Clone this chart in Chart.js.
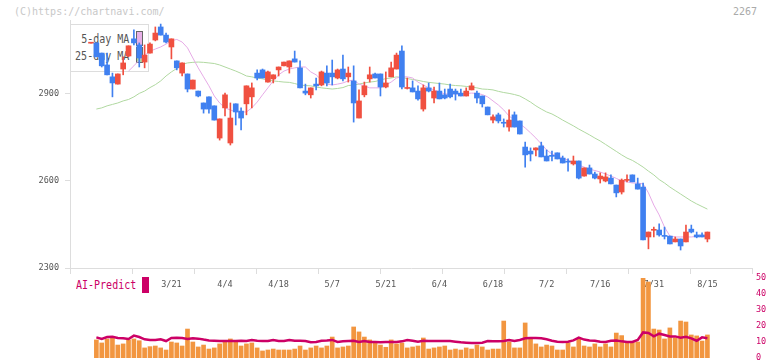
<!DOCTYPE html>
<html><head><meta charset="utf-8">
<script src="https://cdn.jsdelivr.net/npm/chart.js@4.4.1/dist/chart.umd.min.js"></script>
<style>
html,body{margin:0;padding:0;background:#fff;}
#wrap{position:relative;width:772px;height:361px;overflow:hidden;font-family:'DejaVu Sans Mono',monospace;}
canvas{position:absolute;left:0;top:0;}
.t{position:absolute;white-space:nowrap;line-height:12px;}
.sq{position:absolute;box-sizing:border-box;}
</style></head><body>
<div id="wrap">
  <div class="t" style="left:14px;top:6px;font-size:10px;color:#c8c8c8;">(C)https://chartnavi.com/</div>
  <div class="t" style="right:15px;top:6px;font-size:10px;color:#aaa;">2267</div>
  <div class="sq" style="left:70px;top:24px;width:79px;height:48px;border:1px solid #ddd;background:#fff;"></div>
  <div class="t" style="right:643px;top:33px;font-size:11.5px;color:#555;transform:scaleX(0.87);transform-origin:right;">5-day MA</div>
  <div class="t" style="right:643px;top:50px;font-size:11.5px;color:#555;transform:scaleX(0.87);transform-origin:right;">25-day MA</div>
  <div class="sq" style="left:136px;top:31px;width:7px;height:15px;border:1px solid #666;background:#e8b0e8;"></div>
  <div class="sq" style="left:136px;top:47px;width:7px;height:16px;border:1px solid #666;background:#b0d8a0;"></div>
  <div class="t" style="left:76px;top:279px;font-size:11.5px;color:#cc0066;transform:scaleX(0.87);transform-origin:left;">AI-Predict</div>
  <div class="sq" style="left:142px;top:277px;width:7px;height:16px;background:#cc0066;"></div>
  <canvas id="main" width="772" height="361"></canvas>
  <canvas id="sub" width="772" height="361"></canvas>
</div>
<script>
// ---- data ----
const open = [3075,3076,3041,3000,2959,2934,2986,3031,3090,3069,3010,3041,3086,3131,3103,3062,3014,2972,2969,2917,
  2910,2869,2890,2859,2748,2852,2731,2866,2841,2866,2890,2972,2983,2941,2952,2983,2997,2993,3021,2990,
  2910,2897,2934,2931,2972,2972,2955,2986,2959,2945,2817,2897,2952,2969,2969,2924,2959,2986,3048,2919,
  2921,2910,2848,2921,2886,2910,2897,2917,2910,2903,2893,2914,2903,2893,2855,2810,2828,2801,2786,2828,
  2807,2717,2703,2707,2721,2686,2687,2697,2679,2667,2659,2669,2617,2645,2624,2607,2600,2610,2586,2562,
  2602,2621,2590,2579,2407,2430,2431,2411,2410,2390,2400,2390,2434,2414,2414,2400];
const close = [3077,3028,2997,2966,2938,2969,3007,3066,3076,3024,3034,3072,3110,3103,3079,3090,2990,3007,2917,2948,
  2893,2848,2848,2810,2814,2897,2817,2838,2817,2928,2921,2955,2955,2976,2966,2993,3010,3014,3010,2921,
  2903,2921,2928,2976,2938,2959,2983,2952,2972,2869,2876,2928,2966,2955,2924,2938,2990,3034,2924,2921,
  2907,2883,2921,2910,2910,2883,2886,2890,2900,2893,2910,2928,2886,2866,2828,2821,2807,2799,2810,2786,
  2762,2690,2693,2714,2683,2669,2685,2676,2662,2665,2669,2610,2645,2624,2610,2617,2614,2590,2559,2603,
  2604,2597,2572,2397,2424,2432,2414,2409,2383,2400,2376,2424,2424,2407,2407,2424];
const high = [3077,3076,3041,3041,2972,2969,3028,3066,3121,3076,3069,3076,3131,3141,3110,3090,3014,3007,2969,2948,
  2910,2869,2890,2859,2814,2903,2869,2866,2852,2928,2938,2983,2986,2979,2966,2993,3010,3014,3048,3014,
  2934,2921,2955,2979,2997,3017,2986,3034,2993,2997,2914,2941,2993,2972,2969,2976,3010,3041,3066,2955,
  2945,2928,2931,2938,2924,2938,2917,2934,2917,2917,2921,2938,2910,2893,2855,2828,2834,2814,2845,2838,
  2807,2734,2714,2714,2734,2707,2703,2697,2686,2676,2686,2669,2645,2655,2631,2628,2628,2621,2586,2607,
  2621,2621,2610,2593,2424,2441,2452,2441,2410,2407,2400,2448,2448,2424,2421,2424];
const low = [3075,3028,2993,2966,2890,2934,2966,3028,3069,2993,2990,3041,3083,3103,3076,3021,2983,2962,2907,2917,
  2890,2834,2834,2810,2741,2824,2724,2793,2776,2828,2852,2948,2955,2941,2938,2962,2997,2972,3010,2921,
  2897,2886,2914,2928,2928,2931,2952,2945,2941,2803,2817,2890,2941,2955,2893,2921,2959,2986,2917,2917,
  2907,2879,2841,2907,2869,2883,2883,2886,2879,2893,2893,2914,2869,2855,2828,2800,2800,2786,2772,2786,
  2762,2648,2669,2686,2683,2669,2669,2676,2662,2634,2655,2607,2617,2624,2607,2593,2597,2590,2545,2555,
  2597,2597,2572,2397,2366,2407,2410,2400,2383,2390,2362,2390,2421,2404,2407,2390];
const ma5 = [null,null,null,null,null,null,null,2979,2997,3017,3033,3047,3055,3062,3072,3083,3088,3079,3059,3024,
  2990,2959,2928,2893,2869,2852,2845,2838,2838,2838,2852,2872,2897,2921,2945,2966,2979,2986,2990,2993,
  2993,2976,2966,2948,2934,2931,2934,2938,2945,2948,2934,2928,2921,2921,2921,2931,2941,2955,2959,2959,
  2955,2941,2931,2921,2914,2907,2900,2900,2900,2900,2902,2903,2902,2898,2890,2876,2862,2845,2824,2810,
  2797,2783,2766,2748,2728,2707,2693,2686,2679,2672,2662,2655,2648,2641,2636,2631,2624,2617,2609,2600,
  2597,2593,2593,2590,2559,2517,2483,2441,2410,2407,2407,2407,2407,2409,2410,2410];
const ma25 = [null,2848,2852,2859,2864,2869,2876,2881,2890,2902,2910,2922,2932,2945,2962,2976,2988,3002,3007,3009,
  3010,3009,3007,3005,3000,2993,2986,2979,2971,2962,2959,2955,2952,2948,2945,2943,2941,2940,2936,2931,
  2929,2928,2924,2921,2919,2917,2919,2922,2929,2931,2934,2938,2941,2943,2948,2953,2955,2959,2957,2953,
  2950,2947,2943,2940,2938,2936,2934,2931,2929,2928,2926,2924,2921,2917,2916,2914,2909,2905,2902,2898,
  2893,2883,2872,2859,2848,2838,2831,2821,2810,2800,2790,2779,2769,2759,2748,2738,2726,2714,2702,2690,
  2679,2671,2660,2648,2634,2621,2605,2593,2579,2567,2555,2543,2531,2521,2512,2503];
const volume = [null,11.3,9.4,11.9,13.5,8.1,8.8,11.3,11.9,10.8,6.3,7.1,7.5,6.3,5,10,9.4,7.5,18.1,10,
  6.9,8.1,5.6,6.3,8.8,10,11.9,10,7.5,8.8,9.4,6.3,4.4,5,5.6,5,5,5,5.6,7.5,
  5,6.3,7.5,6.3,7.5,13.1,6.3,6.9,7.5,19.4,16.3,13.1,11.3,9.4,8.1,6.7,11.3,8.8,9.4,6.3,
  6.9,7.5,12.5,5.6,6.3,6.9,7.5,5,5.6,5,6.3,5.6,8.1,6.9,5,5.6,5.6,23.1,10,6.3,
  6.3,21.9,12.5,8.8,6.9,8.1,7.5,5,5,9.4,6.9,11.9,7.5,6.9,8.8,6.9,8.8,6.9,15.6,14,
  10,9.8,10,50,47.5,18.1,17.5,11.9,18.8,12.5,23.1,22.5,14.4,13.8,10.6,14.4];
const predict = [null,12.9,11.9,13.1,13.3,12.5,12.3,11.9,14,13.1,11.7,11.3,11.3,11.7,10.6,12.5,12.7,12.5,11.9,12.3,
  12.1,11.5,11,10.8,10.6,10.6,10.6,10.6,10.8,10.6,11.3,10.8,10.6,10.6,11.3,10.6,10.6,11.3,10.8,10.8,
  10.6,9.8,10,10.8,11,11.3,10,10.4,10.6,10.8,10,10.6,10,10,9.8,10,10,10,10.4,11.3,
  10.8,10.2,10.8,10.6,10.6,10.6,10.6,10.6,10.2,9.8,9.6,9.4,9.4,9.6,10.6,10.4,10.4,10.6,11.3,10.6,
  11.3,12.3,12.5,12.5,12.3,11.7,10.8,10.2,10,10.2,11,12.7,11.5,11,10.8,10.2,10,10.8,11,10.4,
  10,10,11.3,16,15.6,13.5,15.2,14.4,13.5,13.5,12.7,13.3,12.3,10.8,12.9,12.3];
const dateLabels = ['3/21','4/4','4/18','5/7','5/21','6/4','6/18','7/2','7/16','7/31','8/15'];
const dateIdx = [15,25,35,45,55,65,75,85,95,105,115];
const priceTicks = [2300,2600,2900];
const subTicks = [0,10,20,30,40,50];

// ---- styles ----
const RED = '#f05040', BLUE = '#4080f0', PINK = '#e6aae6', GREEN = '#b0d8a0';
const CRIMSON = '#cc0066', ORANGE = '#f29640', AXIS = '#dddddd', TXT = '#555555';
const FONT = {family: 'DejaVu Sans Mono', size: 8.5};
const xMin = -3.92, xMax = 123.32;
const idx = open.map((_, i) => i);
const candleColor = idx.map(i => close[i] >= open[i] ? RED : BLUE);

new Chart(document.getElementById('main'), {
  type: 'bar',
  data: {
    datasets: [
      {type: 'bar', label: 'body', xAxisID: 'x', yAxisID: 'y', data: idx.map(i => ({x: i, y: [open[i], close[i]]})),
       backgroundColor: candleColor, barThickness: 5, minBarLength: 1, grouped: false, order: 0},
      {type: 'bar', label: 'wick', xAxisID: 'x', yAxisID: 'y', data: idx.map(i => ({x: i, y: [low[i], high[i]]})),
       backgroundColor: candleColor, barThickness: 1, grouped: false, order: 1},
      {type: 'line', label: '5-day MA', xAxisID: 'x', yAxisID: 'y', data: idx.map(i => ({x: i, y: ma5[i]})),
       borderColor: PINK, borderWidth: 1, pointRadius: 0, order: 2},
      {type: 'line', label: '25-day MA', xAxisID: 'x', yAxisID: 'y', data: idx.map(i => ({x: i, y: ma25[i]})),
       borderColor: GREEN, borderWidth: 1, pointRadius: 0, order: 3}
    ]
  },
  options: {
    responsive: false, animation: false, events: [],
    layout: {autoPadding: false, padding: {left: 0, right: 20, top: 20, bottom: 0}},
    plugins: {legend: {display: false}, tooltip: {enabled: false}},
    scales: {
      xg: {type: 'linear', position: 'bottom', weight: 0, min: 0, max: 11, offset: false,
        ticks: {display: false, stepSize: 1},
        grid: {drawOnChartArea: false, drawTicks: true, tickLength: 6, color: AXIS, offset: false},
        border: {display: true, color: AXIS},
        afterFit: s => { s.height = 8; }},
      x: {type: 'linear', position: 'bottom', weight: 1, min: xMin, max: xMax, offset: false,
        afterBuildTicks: s => { s.ticks = dateIdx.map(v => ({value: v})); },
        ticks: {autoSkip: false, maxRotation: 0, padding: 4, color: TXT, font: FONT,
          callback: v => { const k = dateIdx.indexOf(v); return k >= 0 ? dateLabels[k] : ''; }},
        grid: {display: false, drawTicks: false, offset: false}, border: {display: false},
        afterFit: s => { s.height = 85; }},
      y: {type: 'linear', position: 'left', min: 2300, max: 3155,
        afterBuildTicks: s => { s.ticks = priceTicks.map(v => ({value: v})); },
        ticks: {color: TXT, font: FONT, padding: 6, callback: v => String(v)},
        grid: {drawOnChartArea: false, drawTicks: true, tickLength: 5, color: AXIS},
        border: {display: true, color: AXIS},
        afterFit: s => { s.width = 70; s.paddingTop = 0; s.paddingBottom = 0; }}
    }
  }
});

new Chart(document.getElementById('sub'), {
  type: 'bar',
  data: {
    datasets: [
      {type: 'line', label: 'AI-Predict', xAxisID: 'x', yAxisID: 'y', data: idx.map(i => ({x: i, y: predict[i]})),
       borderColor: CRIMSON, borderWidth: 2.5, pointRadius: 0, order: 0},
      {type: 'bar', label: 'volume', xAxisID: 'x', yAxisID: 'y', data: idx.map(i => ({x: i, y: volume[i]})),
       backgroundColor: ORANGE, barThickness: 4, grouped: false, order: 1}
    ]
  },
  options: {
    responsive: false, animation: false, events: [],
    layout: {autoPadding: false, padding: {left: 70, right: 0, top: 278, bottom: 3}},
    plugins: {legend: {display: false}, tooltip: {enabled: false}},
    scales: {
      x: {type: 'linear', min: xMin, max: xMax, offset: false, display: false, grid: {offset: false}},
      y: {type: 'linear', position: 'right', min: 0, max: 50,
        afterBuildTicks: s => { s.ticks = subTicks.map(v => ({value: v})); },
        ticks: {color: CRIMSON, font: FONT, padding: 4, callback: v => String(v)},
        grid: {display: false, drawTicks: false}, border: {display: false},
        afterFit: s => { s.width = 20; s.paddingTop = 0; s.paddingBottom = 0; }}
    }
  }
});
</script>
</body></html>
